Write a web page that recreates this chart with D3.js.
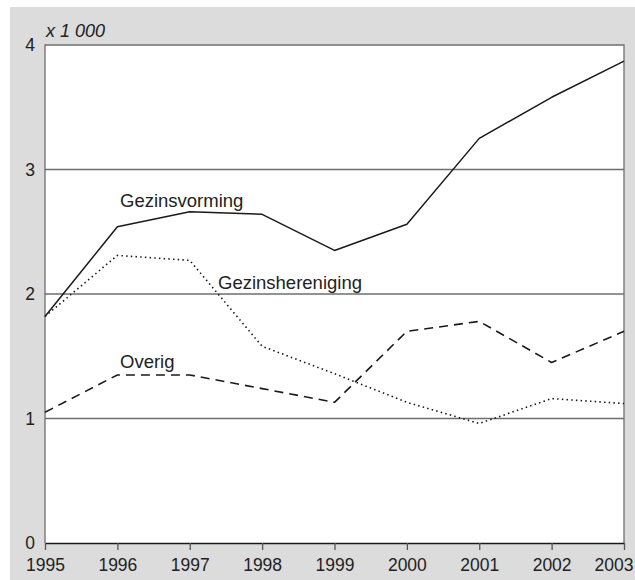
<!DOCTYPE html>
<html>
<head>
<meta charset="utf-8">
<script src="https://cdn.jsdelivr.net/npm/d3@7"></script>
<style>
  body { margin: 0; background: #fff; }
  text { font-family: "Liberation Sans", Arial, sans-serif; fill: #222; }
</style>
</head>
<body>
<div id="chart"></div>
<script>
// data (x 1 000)
const years = [1995, 1996, 1997, 1998, 1999, 2000, 2001, 2002, 2003];
const gezinsvorming = [1.82, 2.54, 2.66, 2.64, 2.35, 2.56, 3.25, 3.58, 3.87];
const gezinshereniging = [1.82, 2.31, 2.27, 1.58, 1.36, 1.13, 0.96, 1.16, 1.12];
const overig = [1.05, 1.35, 1.35, 1.24, 1.13, 1.70, 1.78, 1.45, 1.70];
const yTicks = [0, 1, 2, 3, 4];
const gridValues = [1, 2, 3];

const wid = 635, hei = 580;
// plot box
const padL = 45, padR = 624, padT = 45, padB = 543;

const svg = d3.select("#chart").append("svg")
  .attr("width", wid).attr("height", hei);

// grey panel behind everything
svg.append("rect")
  .attr("x", 10).attr("y", 7)
  .attr("width", wid - 10).attr("height", hei - 7)
  .attr("fill", "#dcdcdc");

// white plot area
svg.append("rect")
  .attr("x", padL).attr("y", padT)
  .attr("width", padR - padL).attr("height", padB - padT)
  .attr("fill", "#fff");

const xScale = d3.scaleLinear().domain([1995, 2003]).range([padL, padR]);
const yScale = d3.scaleLinear().domain([0, 4]).range([padB, padT]);

// grid lines
svg.append("g").selectAll("line")
  .data(gridValues).enter().append("line")
  .attr("x1", padL).attr("x2", padR)
  .attr("y1", d => yScale(d)).attr("y2", d => yScale(d))
  .attr("stroke", "#6e6e6e").attr("stroke-width", 1.3);

// frame: top, left, right in grey
svg.append("path")
  .attr("d", `M${padL},${padB}V${padT}H${padR}V${padB}`)
  .attr("fill", "none").attr("stroke", "#6e6e6e").attr("stroke-width", 1.3);

// series lines
const line = d3.line()
  .x((d, i) => xScale(years[i]))
  .y(d => yScale(d));

const series = [
  { vals: gezinsvorming, dash: null, width: 1.5 },
  { vals: gezinshereniging, dash: "1.5,3.2", width: 1.6 },
  { vals: overig, dash: "9,6", width: 1.6 }
];
svg.append("g").selectAll("path")
  .data(series).enter().append("path")
  .attr("d", d => line(d.vals))
  .attr("fill", "none")
  .attr("stroke", "#1a1a1a")
  .attr("stroke-width", d => d.width)
  .attr("stroke-dasharray", d => d.dash)
  .attr("stroke-linejoin", "round");

// x axis
const xAxis = d3.axisBottom(xScale)
  .tickValues(years)
  .tickFormat(d3.format("d"))
  .tickSize(7)
  .tickSizeOuter(0)
  .tickPadding(9);
const gx = svg.append("g")
  .attr("transform", `translate(0,${padB})`)
  .call(xAxis);
gx.select(".domain").attr("stroke", "#1a1a1a").attr("stroke-width", 1.6);
gx.selectAll(".tick line").attr("stroke", "#555").attr("stroke-width", 1.3);
gx.selectAll(".tick text")
  .style("font-family", "'Liberation Sans', Arial, sans-serif")
  .style("font-size", "17.5px").attr("fill", "#222");
// last label is pushed left so it fits in the window
gx.selectAll(".tick").filter(d => d === 2003).select("text")
  .attr("text-anchor", "end").attr("x", 9);

// y axis labels (no ticks, just numbers)
const yAxis = d3.axisLeft(yScale)
  .tickValues(yTicks)
  .tickFormat(d3.format("d"))
  .tickSize(0)
  .tickPadding(10);
const gy = svg.append("g")
  .attr("transform", `translate(${padL},0)`)
  .call(yAxis);
gy.select(".domain").remove();
gy.selectAll(".tick text")
  .style("font-family", "'Liberation Sans', Arial, sans-serif")
  .style("font-size", "17.5px").attr("fill", "#222");

// unit label
svg.append("text")
  .attr("x", 46).attr("y", 37)
  .style("font-size", "18px").style("font-style", "italic")
  .text("x 1 000");

// series labels
svg.append("text").attr("x", 120).attr("y", 207)
  .style("font-size", "18.5px").text("Gezinsvorming");
svg.append("text").attr("x", 218).attr("y", 289)
  .style("font-size", "18.5px").text("Gezinshereniging");
svg.append("text").attr("x", 120).attr("y", 368)
  .style("font-size", "18.5px").text("Overig");
</script>
</body>
</html>
